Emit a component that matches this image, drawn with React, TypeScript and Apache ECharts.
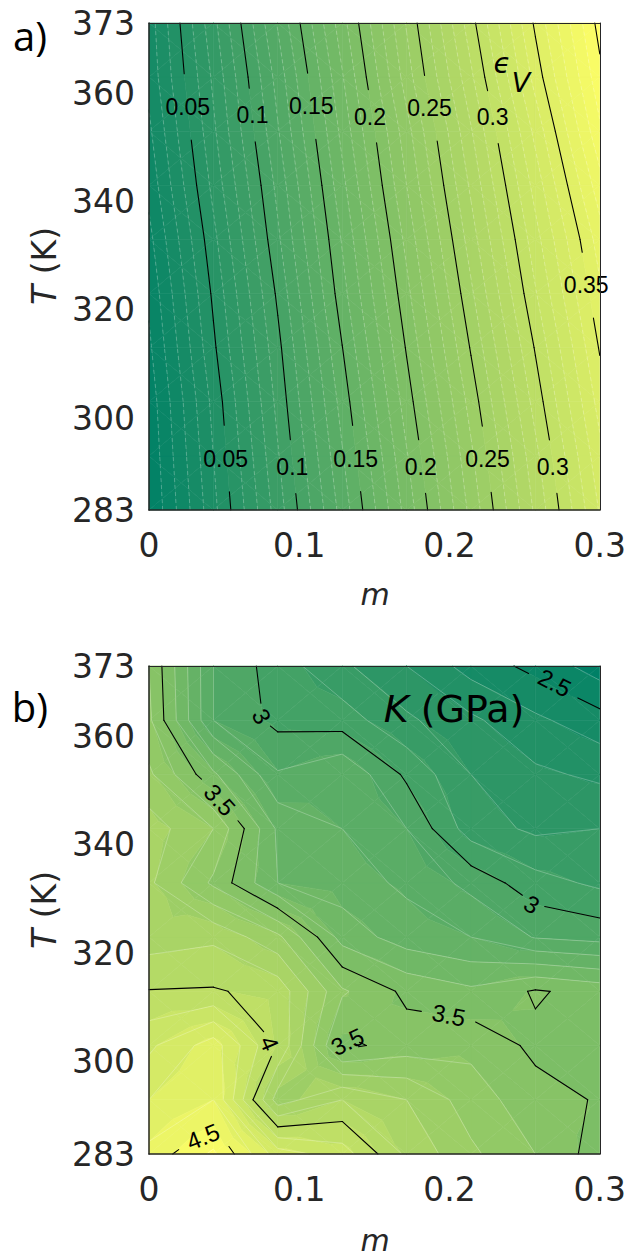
import React, { useEffect, useRef } from "react";
import * as echarts from "echarts";

// ---------- data grid ----------
const mValues = [0, 0.0428571, 0.0857143, 0.1285714, 0.1714286, 0.2142857, 0.2571429, 0.3];
const TValues = [283, 293, 303, 313, 323, 333, 343, 353, 363, 373];

// rows: T = 283 ... 373, columns: m values
const epsV = [
  [-0.010, 0.037, 0.085, 0.134, 0.184, 0.233, 0.282, 0.331],
  [-0.008, 0.040, 0.089, 0.139, 0.189, 0.238, 0.287, 0.337],
  [-0.006, 0.043, 0.093, 0.144, 0.195, 0.244, 0.294, 0.344],
  [-0.002, 0.048, 0.097, 0.1497, 0.201, 0.251, 0.301, 0.351],
  [0.002, 0.052, 0.102, 0.156, 0.207, 0.258, 0.309, 0.358],
  [0.007, 0.057, 0.108, 0.161, 0.213, 0.265, 0.316, 0.365],
  [0.013, 0.063, 0.113, 0.167, 0.220, 0.272, 0.324, 0.376],
  [0.018, 0.068, 0.119, 0.173, 0.226, 0.279, 0.333, 0.388],
  [0.023, 0.072, 0.124, 0.179, 0.235, 0.288, 0.344, 0.397],
  [0.025, 0.077, 0.131, 0.186, 0.241, 0.296, 0.352, 0.404],
];

const bulkK = [
  [4.43, 4.62, 4.25, 4.15, 3.88, 3.72, 3.60, 3.45],
  [4.30, 4.40, 3.75, 3.90, 3.80, 3.65, 3.539, 3.491],
  [4.18, 4.35, 3.99, 3.47, 3.55, 3.574, 3.477, 3.42],
  [4.005, 4.01, 3.966, 3.615, 3.476, 3.42, 3.511, 3.463],
  [3.85, 3.88, 3.726, 3.36, 3.25, 3.20, 3.093, 3.065],
  [3.82, 3.58, 3.30, 3.25, 3.18, 3.07, 2.938, 2.88],
  [3.85, 3.70, 3.283, 3.20, 3.10, 2.85, 2.78, 2.80],
  [3.72, 3.42, 3.11, 3.19, 2.98, 2.80, 2.72, 2.68],
  [3.62, 3.10, 2.97, 2.95, 2.82, 2.72, 2.62, 2.54],
  [3.60, 3.10, 2.95, 2.82, 2.70, 2.56, 2.47, 2.35],
];

const xTicks = [0, 0.1, 0.2, 0.3];
const yTicks = [283, 300, 320, 340, 360, 373];

const epsMajorLevels = [0.05, 0.1, 0.15, 0.2, 0.25, 0.3, 0.35, 0.4];
const epsFineStep = 0.01;
const kMajorLevels = [2.5, 3, 3.5, 4, 4.5];
const kFineStep = 0.1;

// contour labels: [m, T, text, angle in degrees]
const epsLabels: [number, number, string, number][] = [
  [0.0258, 357.5, "0.05", 0],
  [0.0689, 356.0, "0.1", 0],
  [0.108, 357.6, "0.15", 0],
  [0.1471, 355.7, "0.2", 0],
  [0.1867, 357.2, "0.25", 0],
  [0.2287, 355.6, "0.3", 0],
  [0.291, 324.5, "0.35", 0],
  [0.051, 292.5, "0.05", 0],
  [0.0954, 291.0, "0.1", 0],
  [0.1376, 292.5, "0.15", 0],
  [0.1809, 291.0, "0.2", 0],
  [0.2253, 292.4, "0.25", 0],
  [0.2687, 291.0, "0.3", 0],
];
const kLabels: [number, number, string, number][] = [
  [0.270, 369.9, "2.5", -27],
  [0.0749, 363.7, "3", -62],
  [0.0471, 348.3, "3.5", -48],
  [0.2547, 329.0, "3", -30],
  [0.1995, 308.6, "3.5", -11],
  [0.1321, 303.7, "3.5", 25],
  [0.0802, 303.4, "4", -67],
  [0.036, 286.2, "4.5", 22],
];
const kGapOverride: Record<number, number> = { 5: 12 };

// ---------- rendering helpers ----------
const SUMMER = ["#008066", "#ffff66"];
const LABEL_FONT = "Liberation Sans, Arial, sans-serif";
const MAIN_FONT = "DejaVu Sans, Verdana, sans-serif";

function colorOf(v: number, cmin: number, cmax: number) {
  let t = (v - cmin) / (cmax - cmin);
  t = Math.max(0, Math.min(1, t));
  return echarts.color.lerp(t, SUMMER) as string;
}

function clipPoly(poly: number[][], L: number, keepAbove: boolean) {
  const out: number[][] = [];
  for (let k = 0; k < poly.length; k++) {
    const A = poly[k];
    const B = poly[(k + 1) % poly.length];
    const aIn = keepAbove ? A[2] >= L : A[2] <= L;
    const bIn = keepAbove ? B[2] >= L : B[2] <= L;
    if (aIn) out.push(A);
    if (aIn !== bIn) {
      const t = (L - A[2]) / (B[2] - A[2]);
      out.push([A[0] + t * (B[0] - A[0]), A[1] + t * (B[1] - A[1]), L]);
    }
  }
  return out;
}

function cellCorners(api: any, field: number[][]) {
  const i = api.value(2);
  const j = api.value(3);
  const idx = [
    [i, j],
    [i + 1, j],
    [i + 1, j + 1],
    [i, j + 1],
  ];
  return idx.map(([a, b]) => {
    const p = api.coord([mValues[a], TValues[b]]);
    return [p[0], p[1], field[b][a]];
  });
}

function msSegments(c: number[][], L: number) {
  const above = c.map((p) => p[2] >= L);
  const edges = [
    [0, 1],
    [1, 2],
    [2, 3],
    [3, 0],
  ];
  const pts = edges.map(([a, b]) => {
    if (above[a] === above[b]) return null;
    const t = (L - c[a][2]) / (c[b][2] - c[a][2]);
    return [c[a][0] + t * (c[b][0] - c[a][0]), c[a][1] + t * (c[b][1] - c[a][1])];
  });
  const idx = [0, 1, 2, 3].filter((k) => pts[k]);
  if (idx.length === 2) return [[pts[idx[0]] as number[], pts[idx[1]] as number[]]];
  if (idx.length === 4) {
    const center = (c[0][2] + c[1][2] + c[2][2] + c[3][2]) / 4 >= L;
    const adj = [
      [3, 0],
      [0, 1],
      [1, 2],
      [2, 3],
    ];
    const segs: number[][][] = [];
    for (let k = 0; k < 4; k++) {
      if (above[k] !== center) segs.push([pts[adj[k][0]] as number[], pts[adj[k][1]] as number[]]);
    }
    return segs;
  }
  return [];
}

function textWidth(s: string, fs: number) {
  let w = 0;
  for (const ch of s) w += (ch === "." ? 0.278 : 0.556) * fs;
  return w;
}

function subtractCircles(p: number[], q: number[], circles: { x: number; y: number; r: number }[]) {
  let pieces: number[][] = [[0, 1]];
  const dx = q[0] - p[0];
  const dy = q[1] - p[1];
  const a = dx * dx + dy * dy;
  if (a === 0) return [];
  for (const cc of circles) {
    const fx = p[0] - cc.x;
    const fy = p[1] - cc.y;
    const b = 2 * (fx * dx + fy * dy);
    const c = fx * fx + fy * fy - cc.r * cc.r;
    const disc = b * b - 4 * a * c;
    if (disc <= 0) continue;
    const s = Math.sqrt(disc);
    const t1 = (-b - s) / (2 * a);
    const t2 = (-b + s) / (2 * a);
    const next: number[][] = [];
    for (const [u, v] of pieces) {
      if (t1 > u) next.push([u, Math.min(v, t1)]);
      if (t2 < v) next.push([Math.max(u, t2), v]);
    }
    pieces = next.filter(([u, v]) => v > u + 1e-6);
  }
  return pieces.map(([u, v]) => [
    [p[0] + u * dx, p[1] + u * dy],
    [p[0] + v * dx, p[1] + v * dy],
  ]);
}

function fillRenderer(field: number[][], step: number) {
  const flat = field.flat();
  const cmin = Math.min(...flat);
  const cmax = Math.max(...flat);
  return (params: any, api: any) => {
    const c = cellCorners(api, field);
    const ctr = [0, 1, 2].map((d) => (c[0][d] + c[1][d] + c[2][d] + c[3][d]) / 4);
    const children: any[] = [];
    for (let k = 0; k < 4; k++) {
      const tri = [c[k], c[(k + 1) % 4], ctr];
      const vs = tri.map((p) => p[2]);
      const kLo = Math.floor(Math.min(...vs) / step - 1e-9);
      const kHi = Math.ceil(Math.max(...vs) / step + 1e-9);
      for (let b = kLo; b < kHi; b++) {
        const lo = b * step;
        const hi = (b + 1) * step;
        let poly = clipPoly(tri, lo, true);
        if (poly.length < 3) continue;
        poly = clipPoly(poly, hi, false);
        if (poly.length < 3) continue;
        const col = colorOf((lo + hi) / 2, cmin, cmax);
        children.push({
          type: "polygon",
          shape: { points: poly.map((p) => [p[0], p[1]]) },
          style: { fill: col, stroke: col, lineWidth: 0.6 },
          silent: true,
        });
      }
    }
    return { type: "group", children };
  };
}

function lineRenderer(
  field: number[][],
  step: number,
  majors: number[],
  labels: [number, number, string, number][],
  fontSize: number,
  gapOverride: Record<number, number>,
  seamDash: number[] | null
) {
  return (params: any, api: any) => {
    const c = cellCorners(api, field);
    const circles = labels.map((l, k) => {
      const p = api.coord([l[0], l[1]]);
      const r =
        gapOverride[k] !== undefined
          ? gapOverride[k]
          : textWidth(l[2], fontSize) / 2 + (l[2].length > 1 ? 11 : 6.5);
      return { x: p[0], y: p[1], r, level: parseFloat(l[2]) };
    });
    const vs = c.map((p) => p[2]);
    const vmin = Math.min(...vs);
    const vmax = Math.max(...vs);
    const children: any[] = [];
    for (let b = Math.ceil(vmin / step - 1e-9); b * step <= vmax + 1e-9; b++) {
      const L = Math.round(b * step * 1e6) / 1e6;
      const major = majors.find((M) => Math.abs(M - L) < step * 1e-3);
      const segs = msSegments(c, L);
      for (const [p, q] of segs) {
        if (major === undefined) {
          children.push({
            type: "line",
            shape: { x1: p[0], y1: p[1], x2: q[0], y2: q[1] },
            style: {
              stroke: "rgba(255,255,255,0.42)",
              lineWidth: 0.6,
              lineDash: seamDash || undefined,
            },
            silent: true,
          });
        } else {
          const cs = circles.filter((cc) => Math.abs(cc.level - major) < 1e-6);
          for (const [u, v] of subtractCircles(p, q, cs)) {
            children.push({
              type: "line",
              shape: { x1: u[0], y1: u[1], x2: v[0], y2: v[1] },
              style: { stroke: "#000", lineWidth: 1.1, lineCap: "round" },
              silent: true,
            });
          }
        }
      }
    }
    return { type: "group", children };
  };
}

function labelRenderer(labels: [number, number, string, number][], fontSize: number) {
  return (params: any, api: any) => {
    const l = labels[api.value(2)];
    const p = api.coord([l[0], l[1]]);
    return {
      type: "text",
      x: p[0],
      y: p[1],
      rotation: (l[3] * Math.PI) / 180,
      silent: true,
      style: {
        text: l[2],
        fontSize,
        fontFamily: LABEL_FONT,
        fill: "#000",
        align: "center",
        verticalAlign: "middle",
      },
    };
  };
}

function buildOption() {
  const cells: number[][] = [];
  for (let j = 0; j < TValues.length - 1; j++)
    for (let i = 0; i < mValues.length - 1; i++) cells.push([mValues[i], TValues[j], i, j]);
  const epsLabelData = epsLabels.map((l, k) => [l[0], l[1], k]);
  const kLabelData = kLabels.map((l, k) => [l[0], l[1], k]);

  const tickFont = { fontFamily: MAIN_FONT, fontSize: 33, color: "#262626" };
  const frame = (w: number) => ({
    show: true,
    onZero: false,
    lineStyle: { color: "#262626", width: w },
  });
  const xMain = (g: number) => ({
    gridIndex: g,
    type: "value",
    min: 0,
    max: 0.3,
    interval: 0.1,
    position: "bottom",
    z: 10,
    axisLine: frame(1.5),
    axisTick: { show: false },
    splitLine: { show: false },
    axisLabel: { ...tickFont, margin: 19, customValues: xTicks, formatter: (v: number) => String(v) },
  });
  const xTop = (g: number) => ({
    gridIndex: g,
    type: "value",
    min: 0,
    max: 0.3,
    position: "top",
    z: 10,
    axisLine: frame(1),
    axisTick: { show: false },
    splitLine: { show: false },
    axisLabel: { show: false },
  });
  const yMain = (g: number) => ({
    gridIndex: g,
    type: "value",
    min: 283,
    max: 373,
    position: "left",
    z: 10,
    axisLine: frame(1.5),
    axisTick: { show: false },
    splitLine: { show: false },
    axisLabel: { ...tickFont, margin: 14, customValues: yTicks, formatter: (v: number) => String(v) },
  });
  const yRight = (g: number) => ({
    gridIndex: g,
    type: "value",
    min: 283,
    max: 373,
    position: "right",
    z: 10,
    axisLine: frame(1),
    axisTick: { show: false },
    splitLine: { show: false },
    axisLabel: { show: false },
  });

  const panelSeries = (xi: number, yi: number, field: number[][], step: number, majors: number[], labels: any, labelData: any, fs: number, gapOverride: Record<number, number>, dash: number[] | null) => [
    {
      type: "custom",
      xAxisIndex: xi,
      yAxisIndex: yi,
      data: cells,
      encode: { x: 0, y: 1 },
      renderItem: fillRenderer(field, step),
      silent: true,
      z: 1,
    },
    {
      type: "custom",
      xAxisIndex: xi,
      yAxisIndex: yi,
      data: cells,
      encode: { x: 0, y: 1 },
      renderItem: lineRenderer(field, step, majors, labels, fs, gapOverride, dash),
      silent: true,
      z: 2,
    },
    {
      type: "custom",
      xAxisIndex: xi,
      yAxisIndex: yi,
      data: labelData,
      encode: { x: 0, y: 1 },
      renderItem: labelRenderer(labels, fs),
      silent: true,
      clip: false,
      z: 3,
    },
  ];

  const italicRich = { i: { fontStyle: "italic", fontFamily: MAIN_FONT, fontSize: 33, fill: "#262626" } };
  const panelTag = (text: string, y: number) => ({
    type: "text",
    x: 30,
    y,
    z: 50,
    style: { text, fontFamily: "Open Sans, Liberation Sans, sans-serif", fontSize: 40, fill: "#000", align: "center", verticalAlign: "middle" },
  });

  return {
    animation: false,
    backgroundColor: "#ffffff",
    grid: [
      { left: 149, top: 23, width: 453, height: 487 },
      { left: 149, top: 666, width: 453, height: 488 },
    ],
    xAxis: [xMain(0), xTop(0), xMain(1), xTop(1)],
    yAxis: [yMain(0), yRight(0), yMain(1), yRight(1)],
    series: [
      ...panelSeries(0, 0, epsV, epsFineStep, epsMajorLevels, epsLabels, epsLabelData, 23, {}, [4, 3]),
      ...panelSeries(2, 2, bulkK, kFineStep, kMajorLevels, kLabels, kLabelData, 24, kGapOverride, null),
    ],
    graphic: [
      panelTag("a)", 35),
      panelTag("b)", 706),
      {
        type: "text",
        x: 44,
        y: 266,
        rotation: Math.PI / 2,
        z: 50,
        style: { text: "{i|T} (K)", rich: italicRich, fontFamily: MAIN_FONT, fontSize: 33, fill: "#262626", align: "center", verticalAlign: "middle" },
      },
      {
        type: "text",
        x: 44,
        y: 910,
        rotation: Math.PI / 2,
        z: 50,
        style: { text: "{i|T} (K)", rich: italicRich, fontFamily: MAIN_FONT, fontSize: 33, fill: "#262626", align: "center", verticalAlign: "middle" },
      },
      {
        type: "text",
        x: 375,
        y: 594,
        z: 50,
        style: { text: "m", fontFamily: MAIN_FONT, fontStyle: "italic", fontSize: 30, fill: "#262626", align: "center", verticalAlign: "middle" },
      },
      {
        type: "text",
        x: 375,
        y: 1240,
        z: 50,
        style: { text: "m", fontFamily: MAIN_FONT, fontStyle: "italic", fontSize: 30, fill: "#262626", align: "center", verticalAlign: "middle" },
      },
      {
        type: "text",
        x: 502,
        y: 63,
        z: 50,
        style: { text: "\u03F5", fontFamily: MAIN_FONT, fontStyle: "italic", fontSize: 28, fill: "#000", align: "center", verticalAlign: "middle" },
      },
      {
        type: "text",
        x: 521,
        y: 82,
        z: 50,
        style: { text: "V", fontFamily: MAIN_FONT, fontStyle: "italic", fontSize: 27, fill: "#000", align: "center", verticalAlign: "middle" },
      },
      {
        type: "text",
        x: 454,
        y: 709,
        z: 50,
        style: {
          text: "{i|K} (GPa)",
          rich: { i: { fontStyle: "italic", fontFamily: MAIN_FONT, fontSize: 38, fill: "#000" } },
          fontFamily: MAIN_FONT,
          fontSize: 38,
          fill: "#000",
          align: "center",
          verticalAlign: "middle",
        },
      },
    ],
  };
}

export default function App() {
  const ref = useRef<HTMLDivElement>(null);
  useEffect(() => {
    document.body.style.margin = "0";
    const chart = echarts.init(ref.current as HTMLDivElement, null, { renderer: "svg" });
    chart.setOption(buildOption() as any);
    return () => chart.dispose();
  }, []);
  return <div ref={ref} style={{ width: 629, height: 1257 }} />;
}
